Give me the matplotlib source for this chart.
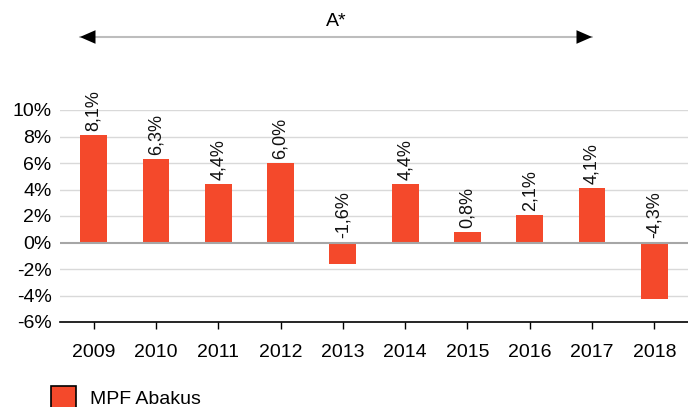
import matplotlib.pyplot as plt
from matplotlib.patches import Patch
from matplotlib import transforms

plt.rcParams['font.family'] = ['Liberation Sans', 'DejaVu Sans']

years = ['2009', '2010', '2011', '2012', '2013', '2014', '2015', '2016', '2017', '2018']
returns = [8.1, 6.3, 4.4, 6.0, -1.6, 4.4, 0.8, 2.1, 4.1, -4.3]
yticks = [-6, -4, -2, 0, 2, 4, 6, 8, 10]
series_name = 'MPF Abakus'
span_label = 'A*'

bar_color = '#f4492b'

fig = plt.figure(figsize=(6.88, 4.07), dpi=100)
ax = fig.add_axes([60 / 688, 85 / 407, 628 / 688, 212 / 407])

x = list(range(len(years)))
ax.bar(x, returns, width=0.43, color=bar_color, zorder=3)

# value labels, rotated, above the bar (or above zero for negatives)
for xi, v in zip(x, returns):
    base = max(v, 0)
    txt = ('%.1f%%' % v).replace('.', ',')
    ax.annotate(txt, (xi, base), xytext=(0, 3), textcoords='offset points',
                rotation=90, ha='center', va='bottom', fontsize=13, color='#111111')

ax.set_xlim(-0.54, 9.54)
ax.set_ylim(-6, 10)
ax.set_yticks(yticks)
ax.set_yticklabels(['%d%%' % t for t in yticks], fontsize=14)
ax.set_xticks(x)
ax.set_xticklabels(years, fontsize=14)
ax.tick_params(axis='y', length=0, pad=6)
ax.tick_params(axis='x', length=5, width=1, color='black', pad=11, direction='out')

for t in yticks:
    if t == 0:
        ax.axhline(t, color='#a6a6a6', lw=1.5, zorder=4)
    elif t != -6:
        ax.axhline(t, color='#d9d9d9', lw=1, zorder=1)

for s in ['top', 'right', 'left']:
    ax.spines[s].set_visible(False)
ax.spines['bottom'].set_color('black')
ax.spines['bottom'].set_linewidth(1.2)

# period arrow above the plot: gray shaft, black heads
trans = transforms.blended_transform_factory(ax.transData, fig.transFigure)
ax.annotate('', xy=(-0.22, 370 / 407), xytext=(8.0, 370 / 407),
            xycoords=trans, textcoords=trans, annotation_clip=False,
            arrowprops=dict(arrowstyle='-', color='#bdbdbd', lw=1.5,
                            shrinkA=0, shrinkB=0))
ax.annotate('', xy=(-0.22, 370 / 407), xytext=(8.0, 370 / 407),
            xycoords=trans, textcoords=trans, annotation_clip=False,
            arrowprops=dict(arrowstyle='<|-|>,head_length=0.8,head_width=0.35',
                            color='black', lw=0, mutation_scale=14,
                            shrinkA=0, shrinkB=0))
fig.text(336 / 688, 385 / 407, span_label, ha='center', va='center', fontsize=14)

fig.legend(handles=[Patch(facecolor=bar_color, edgecolor='black', linewidth=1.2, label=series_name)],
           loc='center left', bbox_to_anchor=(41 / 688, 9 / 407), frameon=False,
           fontsize=14, handlelength=1.3, handleheight=1.6, handletextpad=0.7, borderpad=0)

fig.savefig('out.png', dpi=100)
